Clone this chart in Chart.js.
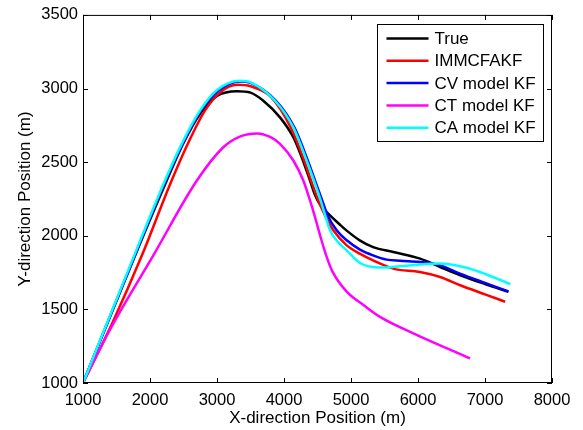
<!DOCTYPE html>
<html>
<head>
<meta charset="utf-8">
<script src="https://cdn.jsdelivr.net/npm/chart.js@4.4.0/dist/chart.umd.min.js"></script>
<style>
html, body { margin: 0; padding: 0; background: #fff; }
#wrap { width: 583px; height: 430px; }
</style>
</head>
<body>
<div id="wrap"><canvas id="trackChart"></canvas></div>
<script>
// tick labels
const xTicks = [1000, 2000, 3000, 4000, 5000, 6000, 7000, 8000];
const yTicks = [1000, 1500, 2000, 2500, 3000, 3500];

const seriesNames = ['True', 'IMMCFAKF', 'CV model KF', 'CT model KF', 'CA model KF'];
const seriesColors = ['#000000', '#ff0000', '#0000ff', '#ff00ff', '#00ffff'];

// True track
const trueX = [1000, 1600, 2250, 2500, 2750, 3000, 3300, 3500, 3691, 3940, 4139, 4264, 4388, 4460, 4540, 4637, 4836, 4936, 5130, 5330, 5630, 6030, 6330, 6630, 7000, 7350];
const trueY = [1000, 1672, 2375, 2630, 2830, 2950, 2982, 2972, 2917, 2804, 2669, 2533, 2375, 2280, 2210, 2160, 2075, 2035, 1969, 1923, 1890, 1845, 1788, 1732, 1672, 1619];

// IMMCFAKF
const immX = [1000, 1450, 1880, 2300, 2580, 2820, 3050, 3300, 3500, 3800, 4100, 4300, 4420, 4512, 4600, 4736, 4936, 5130, 5330, 5630, 6030, 6330, 6630, 7000, 7300];
const immY = [1000, 1420, 1867, 2350, 2640, 2850, 2975, 3025, 3015, 2945, 2736, 2511, 2353, 2240, 2150, 2037, 1935, 1879, 1833, 1777, 1754, 1720, 1664, 1602, 1552];

// CV model KF
const cvX = [1000, 1610, 2235, 2510, 2760, 3020, 3340, 3500, 3880, 4155, 4355, 4480, 4570, 4650, 4786, 4936, 5134, 5328, 5532, 5731, 6030, 6328, 6627, 7000, 7350];
const cvY = [1000, 1680, 2375, 2646, 2850, 2985, 3048, 3038, 2917, 2736, 2511, 2353, 2240, 2140, 2037, 1969, 1906, 1867, 1838, 1830, 1822, 1799, 1743, 1680, 1622];

// CT model KF
const ctX = [1000, 1400, 2050, 2700, 3094, 3350, 3600, 3800, 3940, 4139, 4288, 4388, 4463, 4540, 4637, 4720, 4936, 5200, 5433, 5930, 6776];
const ctY = [1000, 1360, 1867, 2375, 2601, 2675, 2695, 2670, 2624, 2511, 2375, 2240, 2127, 2000, 1856, 1760, 1620, 1525, 1449, 1337, 1167];

// CA model KF
const caX = [1000, 1600, 2224, 2497, 2746, 3000, 3343, 3500, 3866, 4139, 4338, 4463, 4547, 4620, 4687, 4800, 4936, 5134, 5433, 5731, 6030, 6328, 6627, 6925, 7380];
const caY = [1000, 1680, 2375, 2646, 2850, 2990, 3053, 3042, 2917, 2736, 2511, 2353, 2240, 2130, 2037, 1960, 1901, 1815, 1784, 1793, 1805, 1811, 1793, 1754, 1671];

const seriesX = [trueX, immX, cvX, ctX, caX];
const seriesY = [trueY, immY, cvY, ctY, caY];

const fontFamily = '"Liberation Sans", Arial, Helvetica, sans-serif';

function toPoints(xs, ys) {
    return xs.map(function (x, i) {
        return { x: x, y: ys[i] };
    });
}

const datasets = seriesNames.map(function (name, i) {
    return {
        label: name,
        data: toPoints(seriesX[i], seriesY[i]),
        borderColor: seriesColors[i],
        backgroundColor: seriesColors[i],
        borderWidth: 2.5,
        showLine: true,
        pointRadius: 0,
        cubicInterpolationMode: 'monotone',
        order: seriesNames.length - i
    };
});

// box, inward ticks on all sides and the legend inside the axes
const matlabFrame = {
    id: 'matlabFrame',
    afterDatasetsDraw(chart) {
        const ctx = chart.ctx;
        const a = chart.chartArea;
        const sx = chart.scales.x;
        const sy = chart.scales.y;
        ctx.save();
        ctx.strokeStyle = '#000';
        ctx.lineWidth = 1;
        ctx.strokeRect(a.left + 0.5, a.top + 0.5, a.right - a.left - 1, a.bottom - a.top - 1);
        ctx.beginPath();
        xTicks.forEach(function (v) {
            const p = Math.round(sx.getPixelForValue(v)) + 0.5;
            ctx.moveTo(p, a.bottom); ctx.lineTo(p, a.bottom - 5);
            ctx.moveTo(p, a.top); ctx.lineTo(p, a.top + 5);
        });
        yTicks.forEach(function (v) {
            const p = Math.round(sy.getPixelForValue(v)) + 0.5;
            ctx.moveTo(a.left, p); ctx.lineTo(a.left + 5, p);
            ctx.moveTo(a.right, p); ctx.lineTo(a.right - 5, p);
        });
        ctx.stroke();

        // legend
        const boxW = 166, rowH = 22.3;
        const boxL = Math.round(a.right - 9 - boxW) + 0.5;
        const boxT = Math.round(a.top + 9) + 0.5;
        const boxH = 117;
        ctx.fillStyle = '#fff';
        ctx.fillRect(boxL, boxT, boxW, boxH);
        ctx.strokeRect(boxL, boxT, boxW, boxH);
        ctx.font = '17px ' + fontFamily;
        ctx.textBaseline = 'middle';
        ctx.textAlign = 'left';
        chart.data.datasets.forEach(function (ds, i) {
            const cy = boxT + 14 + i * rowH;
            ctx.strokeStyle = ds.borderColor;
            ctx.lineWidth = 2.5;
            ctx.beginPath();
            ctx.moveTo(boxL + 9, cy);
            ctx.lineTo(boxL + 51, cy);
            ctx.stroke();
            ctx.fillStyle = '#000';
            ctx.fillText(ds.label, boxL + 57, cy + 1);
        });
        ctx.restore();
    }
};

new Chart(document.getElementById('trackChart'), {
    type: 'scatter',
    data: { datasets: datasets },
    options: {
        responsive: true,
        maintainAspectRatio: false,
        animation: false,
        layout: { padding: { top: 14, right: 31, left: 0, bottom: 0 } },
        plugins: {
            legend: { display: false },
            tooltip: { enabled: false }
        },
        scales: {
            x: {
                type: 'linear',
                min: 1000,
                max: 8000,
                afterBuildTicks: function (scale) {
                    scale.ticks = xTicks.map(function (v) { return { value: v }; });
                },
                afterFit: function (scale) { scale.height = 47; },
                grid: { display: false, drawTicks: false },
                border: { display: false },
                ticks: {
                    autoSkip: false,
                    maxRotation: 0,
                    padding: 8,
                    color: '#000',
                    font: { family: fontFamily, size: 16.5 },
                    callback: function (v) { return String(v); }
                },
                title: {
                    display: true,
                    text: 'X-direction Position (m)',
                    color: '#000',
                    font: { family: fontFamily, size: 17 },
                    padding: { top: 0, bottom: 1.5 }
                }
            },
            y: {
                type: 'linear',
                min: 1000,
                max: 3500,
                afterBuildTicks: function (scale) {
                    scale.ticks = yTicks.map(function (v) { return { value: v }; });
                },
                afterFit: function (scale) { scale.width = 83; },
                grid: { display: false, drawTicks: false },
                border: { display: false },
                ticks: {
                    autoSkip: false,
                    padding: 5,
                    color: '#000',
                    font: { family: fontFamily, size: 16.5 },
                    callback: function (v) { return String(v); }
                },
                title: {
                    display: true,
                    text: 'Y-direction Position (m)',
                    color: '#000',
                    font: { family: fontFamily, size: 17 },
                    padding: { top: 15, bottom: 0 }
                }
            }
        }
    },
    plugins: [matlabFrame]
});
</script>
</body>
</html>
